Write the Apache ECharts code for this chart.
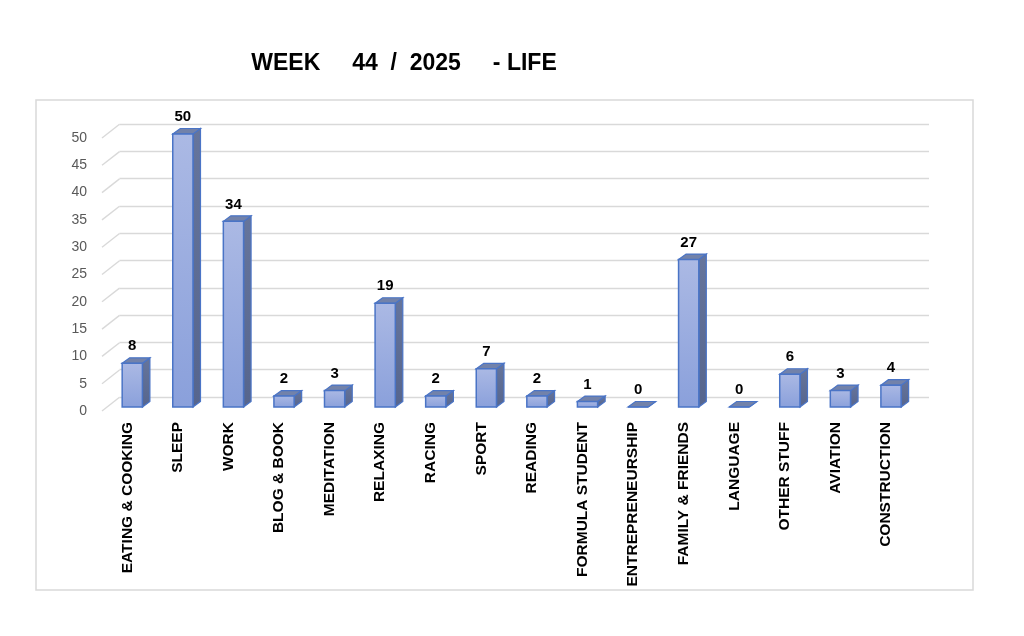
<!DOCTYPE html>
<html>
<head>
<meta charset="utf-8">
<script src="https://cdn.jsdelivr.net/npm/echarts@6/dist/echarts.min.js"></script>
<style>
html,body{margin:0;padding:0;background:#fff;}
#chart{width:1024px;height:636px;}
</style>
</head>
<body>
<div id="chart"></div>
<script>
const categories = ["EATING & COOKING","SLEEP","WORK","BLOG & BOOK","MEDITATION","RELAXING","RACING","SPORT","READING","FORMULA STUDENT","ENTREPRENEURSHIP","FAMILY & FRIENDS","LANGUAGE","OTHER STUFF","AVIATION","CONSTRUCTION"];
const hours = [8,50,34,2,3,19,2,7,2,1,0,27,0,6,3,4];
const yTicks = [0,5,10,15,20,25,30,35,40,45,50];
const titleText = "WEEK     44  /  2025     - LIFE";

const DEPTH_X = 7.5, DEPTH_Y = -5.5;   // bar depth
const WALL_X = 17.5, WALL_Y = -13.7;   // side wall depth

const chart = echarts.init(document.getElementById('chart'), null, {renderer:'canvas'});
const fontFam = '"Liberation Sans", Arial, sans-serif';

const option = {
  backgroundColor: '#fff',
  animation: false,
  title: {
    text: titleText,
    left: 399, top: 47, textAlign: 'center',
    textStyle: {fontFamily: fontFam, fontWeight: 'bold', fontSize: 23, color: '#000'}
  },
  graphic: [{
    type: 'rect', shape: {x: 36, y: 100, width: 937, height: 490},
    style: {fill: 'none', stroke: '#d9d9d9', lineWidth: 1.5}, z: -10
  }],
  grid: [
    {left: 119.5, right: 95, top: 124, bottom: 239},     // back wall
    {left: 107, right: 107.7, top: 134, bottom: 229},    // bar front plane
    {left: 102, right: 112.7, top: 138, bottom: 225}     // front edge (labels)
  ],
  xAxis: [
    {gridIndex: 0, type: 'category', data: categories, show: false},
    {gridIndex: 1, type: 'category', data: categories, show: false},
    {gridIndex: 2, type: 'category', data: categories,
     axisLine: {show: false}, axisTick: {show: false},
     axisLabel: {rotate: 90, interval: 0, margin: 11, color: '#000',
       fontFamily: fontFam, fontWeight: 'bold', fontSize: 15.5}}
  ],
  yAxis: [
    {gridIndex: 0, type: 'value', min: 0, max: 50, interval: 5,
     axisLine: {show: false}, axisTick: {show: false}, axisLabel: {show: false},
     splitLine: {lineStyle: {color: '#d9d9d9', width: 1.4}}},
    {gridIndex: 1, type: 'value', min: 0, max: 50, interval: 5, show: false, splitLine: {show: false}},
    {gridIndex: 2, type: 'value', min: 0, max: 50, interval: 5,
     axisLine: {show: false}, axisTick: {show: false}, splitLine: {show: false},
     axisLabel: {margin: 15, color: '#595959', fontFamily: fontFam, fontSize: 14}}
  ],
  series: [
    {
      type: 'custom', xAxisIndex: 2, yAxisIndex: 2,
      data: yTicks.map(v => [0, v]),
      silent: true,
      renderItem: function(params, api) {
        const p = api.coord([0, api.value(1)]);
        const band = api.size([1, 0])[0];
        const x0 = p[0] - band / 2, y0 = p[1];
        return {type: 'line', shape: {x1: x0, y1: y0, x2: x0 + WALL_X, y2: y0 + WALL_Y},
          style: {stroke: '#d9d9d9', lineWidth: 1.4}};
      }
    },
    {
      type: 'custom', xAxisIndex: 1, yAxisIndex: 1,
      data: hours.map((v, i) => [i, v]),
      renderItem: function(params, api) {
        const i = api.value(0), v = api.value(1);
        const top = api.coord([i, v]);
        const bot = api.coord([i, 0]);
        const band = api.size([1, 0])[0];
        const hw = band * 0.2;
        const cx = top[0];
        const xl = cx - hw, xr = cx + hw, yt = top[1], yb = bot[1];
        const edge = '#4a74c6';
        return {
          type: 'group',
          children: [
            {type: 'polygon', shape: {points: [[xr, yt], [xr + DEPTH_X, yt + DEPTH_Y], [xr + DEPTH_X, yb + DEPTH_Y], [xr, yb]]},
             style: {fill: new echarts.graphic.LinearGradient(0,0,0,1,[{offset:0,color:'#66759c'},{offset:1,color:'#56658d'}]), stroke: edge, lineWidth: 1.2}},
            {type: 'polygon', shape: {points: [[xl, yt], [xl + DEPTH_X, yt + DEPTH_Y], [xr + DEPTH_X, yt + DEPTH_Y], [xr, yt]]},
             style: {fill: '#7282aa', stroke: edge, lineWidth: 1.2}},
            {type: 'rect', shape: {x: xl, y: yt, width: xr - xl, height: Math.max(yb - yt, 0)},
             style: {fill: new echarts.graphic.LinearGradient(0,0,0,1,[{offset:0,color:'#abb9e4'},{offset:1,color:'#8aa0db'}]), stroke: edge, lineWidth: 1.5}},
            {type: 'text', style: {text: String(v), x: cx, y: yt + DEPTH_Y - 4, align: 'center', verticalAlign: 'bottom',
              font: 'bold 15px ' + fontFam, fill: '#000'}}
          ]
        };
      }
    }
  ]
};
chart.setOption(option);
</script>
</body>
</html>
